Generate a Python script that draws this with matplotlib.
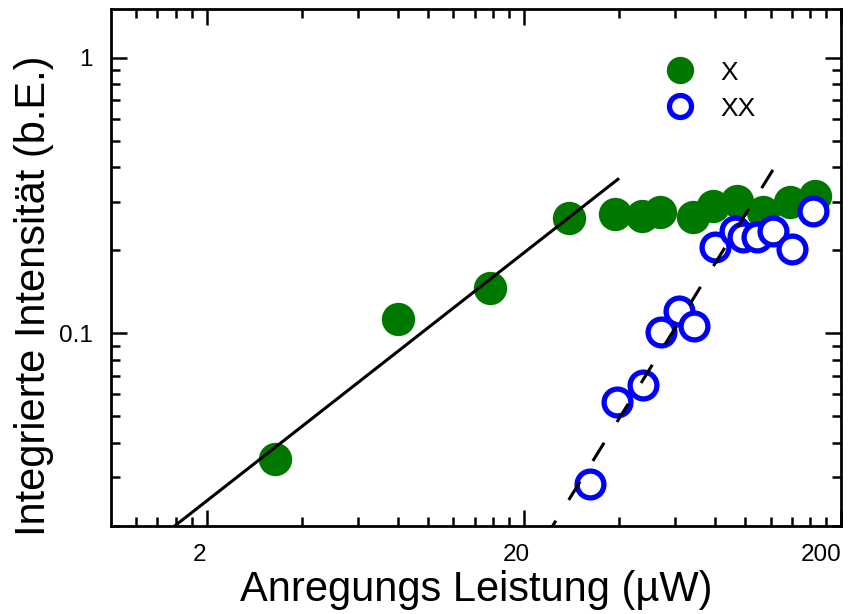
import numpy as np
import matplotlib
matplotlib.use("Agg")
import matplotlib.pyplot as plt
import matplotlib.transforms as mtransforms
from matplotlib.ticker import FixedLocator, FixedFormatter, NullFormatter

plt.rcParams['font.family'] = ['Liberation Sans', 'DejaVu Sans']

# Excitation power (µW) and integrated intensity (arb. units)
power_X = [3.30, 8.0, 15.7, 27.7, 38.7, 47.1, 53.7, 68.2, 79.0, 94.0, 113.5, 138.0, 165.6]
intensity_X = [0.0351, 0.1124, 0.146, 0.262, 0.271, 0.266, 0.275, 0.264, 0.290, 0.302, 0.275, 0.300, 0.315]

power_XX = [32.3, 39.3, 47.5, 54.1, 61.7, 68.8, 80.2, 92.6, 98.2, 108.7, 122.0, 140.0, 163.0]
intensity_XX = [0.0285, 0.0561, 0.0647, 0.1008, 0.120, 0.106, 0.2055, 0.235, 0.2235, 0.2235, 0.235, 0.202, 0.278]

# Power-law fits I = a * P^k
fit_X_a, fit_X_k, fit_X_range = 0.0132, 0.90, (1.0, 39.6)
fit_XX_a, fit_XX_k, fit_XX_range = 5.15e-5, 1.86, (122.0, 20.0)

x_major = [2, 20, 200]
x_major_labels = ['2', '20', '200']
x_minor = [1.2, 1.4, 1.6, 1.8, 4, 6, 8, 10, 12, 14, 16, 18,
           40, 60, 80, 100, 120, 140, 160, 180]
y_major = [0.1, 1]
y_major_labels = ['0.1', '1']
y_minor = [0.02, 0.03, 0.04, 0.05, 0.06, 0.07, 0.08, 0.09,
           0.2, 0.3, 0.4, 0.5, 0.6, 0.7, 0.8, 0.9]

green = '#007800'
blue = '#0000ff'

fig = plt.figure(figsize=(8.59, 6.14), dpi=100)
ax = fig.add_axes([111 / 859, 1 - 526 / 614, 730 / 859, 517 / 614])
ax.set_xscale('log')
ax.set_yscale('log')
ax.set_xlim(1.0, 200)
ax.set_ylim(0.02, 1.5)

ax.plot(power_X, intensity_X, 'o', color=green, markersize=24,
        markeredgewidth=0, label='X', zorder=2)
ax.plot(power_XX, intensity_XX, 'o', markerfacecolor='white',
        markeredgecolor=blue, markersize=19.3, markeredgewidth=3.8,
        label='XX', zorder=3)

px = np.geomspace(*fit_X_range, 200)
ax.plot(px, fit_X_a * px ** fit_X_k, '-', color='black', lw=2.2, zorder=4)
pxx = np.geomspace(*fit_XX_range, 200)
ax.plot(pxx, fit_XX_a * pxx ** fit_XX_k, color='black', lw=2.2,
        dashes=(7.0, 8.0), zorder=4)

ax.xaxis.set_major_locator(FixedLocator(x_major))
ax.xaxis.set_major_formatter(FixedFormatter(x_major_labels))
ax.xaxis.set_minor_locator(FixedLocator(x_minor))
ax.xaxis.set_minor_formatter(NullFormatter())
ax.yaxis.set_major_locator(FixedLocator(y_major))
ax.yaxis.set_major_formatter(FixedFormatter(y_major_labels))
ax.yaxis.set_minor_locator(FixedLocator(y_minor))
ax.yaxis.set_minor_formatter(NullFormatter())

ax.tick_params(which='both', direction='in', top=True, right=True, width=1.8)
ax.tick_params(which='major', length=11.5, labelsize=17.5, pad=13)
ax.tick_params(which='minor', length=6.5)
for sp in ax.spines.values():
    sp.set_linewidth(2.0)

# x tick labels sit slightly left of their ticks; the last one ends at the frame
shift = mtransforms.ScaledTranslation(-7 / 100, 0, fig.dpi_scale_trans)
xlabels = ax.get_xticklabels()
for lab in xlabels[:-1]:
    lab.set_transform(lab.get_transform() + shift)
xlabels[-1].set_horizontalalignment('right')

ax.set_xlabel('Anregungs Leistung (µW)', fontsize=30, labelpad=3)
ax.set_ylabel('Integrierte Intensität (b.E.)', fontsize=30)
ax.yaxis.set_label_coords(-0.078, 0.445)

leg = ax.legend(loc='upper left', bbox_to_anchor=(0.762, 0.9), frameon=False,
                fontsize=19, markerscale=0.82, handlelength=1.0,
                handletextpad=1.0, labelspacing=0.45, borderpad=0,
                borderaxespad=0)

fig.savefig('out.png', dpi=100)
